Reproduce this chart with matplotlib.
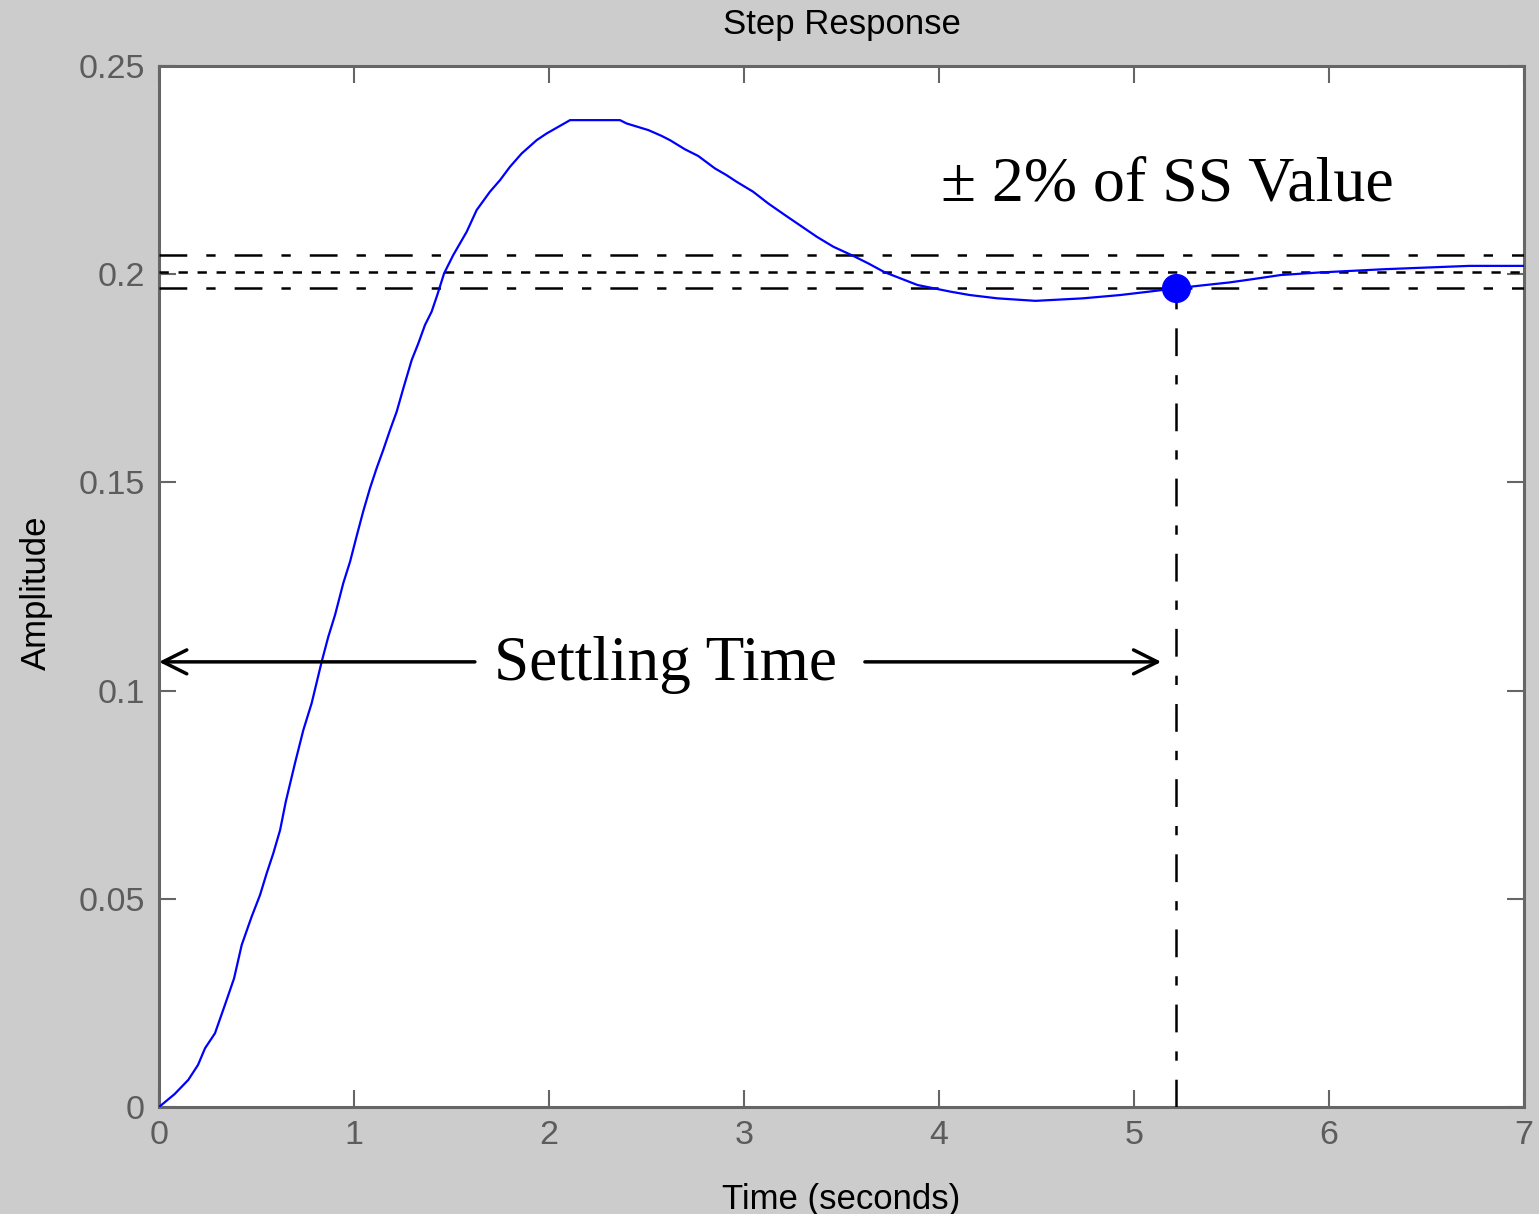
import matplotlib
matplotlib.use("Agg")
import matplotlib.pyplot as plt
import numpy as np

# ---- data ----
t_vals = [0, 0.08, 0.15, 0.20, 0.236, 0.287, 0.338, 0.385, 0.424, 0.475, 0.518, 0.552,
          0.586, 0.621, 0.65, 0.697, 0.74, 0.783, 0.834, 0.868, 0.903, 0.945, 0.98, 1.013,
          1.047, 1.082, 1.116, 1.15, 1.185, 1.219, 1.253, 1.296, 1.33, 1.364, 1.398, 1.427,
          1.462, 1.509, 1.578, 1.629, 1.697, 1.749, 1.8, 1.86, 1.937, 1.988, 2.048, 2.108,
          2.364, 2.398, 2.51, 2.578, 2.62, 2.697, 2.765, 2.851, 2.91, 2.962, 3.047, 3.124,
          3.21, 3.279, 3.373, 3.458, 3.56, 3.637, 3.72, 3.89, 4.06, 4.157, 4.30, 4.495,
          4.737, 4.93, 5.075, 5.213, 5.366, 5.486, 5.607, 5.752, 5.946, 6.284, 6.72, 7.0]
amplitude = [0, 0.0031, 0.0065, 0.0101, 0.0141, 0.0177, 0.0245, 0.0309, 0.0389, 0.0457,
             0.0509, 0.0561, 0.0609, 0.0665, 0.0733, 0.0825, 0.0905, 0.097, 0.1069, 0.1129,
             0.1182, 0.1258, 0.131, 0.137, 0.143, 0.1486, 0.1534, 0.1578, 0.1626, 0.167,
             0.1726, 0.1794, 0.1834, 0.1878, 0.191, 0.195, 0.2002, 0.2046, 0.2102, 0.2154,
             0.2198, 0.2226, 0.2258, 0.229, 0.2322, 0.2338, 0.2354, 0.237, 0.237, 0.2362,
             0.2346, 0.2332, 0.2322, 0.230, 0.2284, 0.2254, 0.2238, 0.2222, 0.2198, 0.217,
             0.2142, 0.212, 0.209, 0.2066, 0.2044, 0.2026, 0.2005, 0.1974, 0.1958, 0.195,
             0.1942, 0.1936, 0.1942, 0.195, 0.1958, 0.1966, 0.1974, 0.198, 0.1988, 0.1998,
             0.2004, 0.2012, 0.202, 0.202]
ss_value = 0.2005
band_upper = 0.2045
band_lower = 0.1966
settling_time = 5.213
settling_amp = 0.1966
arrow_level = 0.1069
left_arrow_x = [1.62, 0.0]
right_arrow_x = [3.62, 5.14]

x_ticks = [0, 1, 2, 3, 4, 5, 6, 7]
x_ticklabels = ['0', '1', '2', '3', '4', '5', '6', '7']
y_ticks = [0, 0.05, 0.1, 0.15, 0.2, 0.25]
y_ticklabels = ['0', '0.05', '0.1', '0.15', '0.2', '0.25']

plt.rcParams['font.family'] = ['Liberation Sans', 'DejaVu Sans']
plt.rcParams['lines.scale_dashes'] = False

W, H = 1539, 1214
fig = plt.figure(figsize=(W / 100, H / 100), dpi=100, facecolor='#cccccc')
ax = fig.add_axes([159 / W, 107 / H, 1365 / W, 1041 / H])
ax.set_facecolor('white')

ax.plot(t_vals, amplitude, color='#0000ff', lw=1.6, zorder=4)

dd = (20, 13.7, 6.7, 13.7)
ax.axhline(band_upper, color='black', lw=1.8, dashes=dd, zorder=3)
ax.axhline(band_lower, color='black', lw=1.8, dashes=dd, zorder=3)
ax.axhline(ss_value, color='black', lw=1.8, dashes=(6.7, 7.0), zorder=3)
ax.plot([settling_time, settling_time], [0, settling_amp], color='black', lw=1.8,
        dashes=dd, zorder=3)
ax.plot([settling_time], [settling_amp], 'o', color='#0000ff', ms=20, zorder=5)

arrowprops = dict(arrowstyle='->', color='black', lw=2.5, mutation_scale=43,
                  shrinkA=0, shrinkB=0)
ax.annotate('', xy=(left_arrow_x[1], arrow_level), xytext=(left_arrow_x[0], arrow_level),
            arrowprops=arrowprops, annotation_clip=False, zorder=6)
ax.annotate('', xy=(right_arrow_x[1], arrow_level), xytext=(right_arrow_x[0], arrow_level),
            arrowprops=arrowprops, annotation_clip=False, zorder=6)

ax.text(2.60, 0.1025, 'Settling Time', family=['Liberation Serif', 'DejaVu Serif'],
        fontsize=45.5, ha='center', va='baseline', color='black')
ax.text(4.01, 0.2178, '± 2% of SS Value', family=['Liberation Serif', 'DejaVu Serif'],
        fontsize=46, ha='left', va='baseline', color='black')

ax.set_xlim(0, 7)
ax.set_ylim(0, 0.25)
ax.set_xticks(x_ticks)
ax.set_xticklabels(x_ticklabels)
ax.set_yticks(y_ticks)
ax.set_yticklabels(y_ticklabels)
ax.tick_params(direction='in', length=12.5, width=1.5, color='#666666', top=True,
               right=True, labelsize=24.5, labelcolor='#5c5c5c')
ax.tick_params(axis='x', pad=9)
ax.tick_params(axis='y', pad=10)
for sp in ax.spines.values():
    sp.set_color('#666666')
    sp.set_linewidth(2.2)

ax.set_title('Step Response', fontsize=25, color='black', pad=23)
ax.set_xlabel('Time (seconds)', fontsize=25, color='black')
ax.set_ylabel('Amplitude', fontsize=25, color='black')
ax.xaxis.set_label_coords(0.5, -0.073)
ax.yaxis.set_label_coords(-0.078, 0.494)

fig.savefig('out.png', dpi=100, facecolor=fig.get_facecolor())
